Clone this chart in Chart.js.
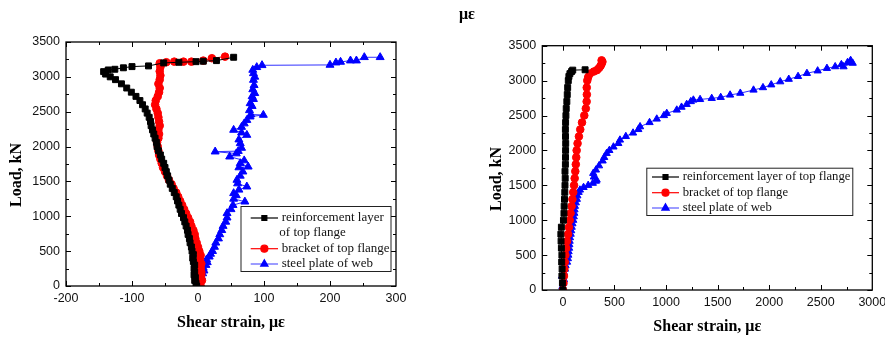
<!DOCTYPE html>
<html>
<head>
<meta charset="utf-8">
<script src="https://cdn.jsdelivr.net/npm/chart.js@4"></script>
<style>
body{margin:0;background:#fff;width:885px;height:345px;overflow:hidden;position:relative}
canvas{position:absolute;top:0}
#ca{left:0}
#cb{left:442px}
#stray{position:absolute;left:459px;top:5px;font:bold 16px "Liberation Serif";color:#000}
</style>
</head>
<body>
<canvas id="ca" width="442" height="345"></canvas>
<canvas id="cb" width="443" height="345"></canvas>
<div id="stray">με</div>
<script>
// (a) left panel
var aRebarLoad = [0,40,80,120,160,200,250,300,350,400,450,500,560,620,680,740,800,860,920,980,1040,1100,1160,1220,1280,1340,1400,1460,1520,1580,1640,1700,1760,1820,1880,1940,2000,2060,2120,2180,2240,2300,2360,2420,2480,2540,2600,2660,2720,2780,2840,2900,2960,3000,3040,3075,3099,3109,3130,3147,3157,3200,3209,3218,3224,3233,3281];
var aRebarStrain = [-2,-3,-5,-4,-6,-5,-6,-5,-7,-8,-7,-9,-10,-12,-13,-15,-16,-18,-20,-22,-25,-27,-29,-31,-33,-36,-39,-42,-44,-46,-48,-50,-52,-55,-57,-60,-62,-63,-65,-67,-69,-71,-72,-74,-77,-80,-84,-88,-94,-101,-108,-116,-125,-133,-140,-143,-136,-126,-113,-100,-75,-52,-29,-3,8,28,54];

var aBracketLoad = [0,40,80,120,160,200,260,320,380,440,500,560,620,680,740,800,860,920,980,1040,1100,1160,1220,1280,1340,1400,1460,1520,1580,1640,1700,1760,1820,1880,1940,2000,2060,2120,2180,2240,2300,2360,2420,2480,2540,2600,2660,2720,2780,2840,2900,2960,3020,3080,3140,3180,3195,3210,3218,3218,3218,3233,3267,3290];
var aBracketStrain = [4,3,6,4,5,5,4,5,3,4,2,0,-2,-4,-5,-7,-10,-12,-15,-18,-21,-24,-27,-30,-33,-37,-40,-44,-47,-50,-53,-55,-57,-59,-60,-61,-62,-60,-59,-60,-58,-59,-60,-61,-63,-65,-64,-61,-59,-58,-60,-58,-57,-58,-57,-56,-58,-48,-36,-22,-10,8,21,41];

var aWebLoad = [0,30,60,100,140,180,220,260,300,325,340,380,420,460,500,560,620,680,740,800,860,920,980,1043,1100,1160,1209,1250,1300,1330,1380,1425,1470,1521,1580,1640,1700,1711,1760,1800,1855,1900,1927,1935,1980,2047,2100,2166,2200,2238,2280,2330,2380,2429,2453,2460,2520,2580,2620,2680,2720,2765,2820,2880,2955,3000,3050,3099,3138,3166,3171,3204,3214,3233,3233,3281,3281];
var aWebStrain = [0,1,3,2,5,7,9,8,12,3,14,13,17,19,22,25,27,31,33,36,38,42,44,44,50,53,71,54,58,54,62,74,60,59,64,68,62,76,64,70,48,58,26,61,66,64,62,74,66,54,66,70,74,79,99,80,78,82,79,84,82,86,83,85,84,86,84,83,89,97,200,209,216,231,240,252,276];

// (b) right panel
var bRebarLoad = [0,100,200,300,400,500,600,700,800,900,1000,1100,1200,1300,1400,1500,1600,1700,1800,1900,2000,2100,2200,2300,2400,2500,2600,2700,2800,2900,3000,3060,3100,3130,3150,3155];
var bRebarStrain = [0,-5,-10,-8,-12,-10,-15,-18,-20,-15,5,10,12,15,18,20,22,20,24,25,26,27,25,24,26,29,32,38,42,46,52,58,68,84,95,215];

var bBracketLoad = [0,100,200,300,400,500,600,700,800,900,1000,1100,1200,1300,1400,1500,1600,1700,1800,1900,2000,2100,2200,2300,2400,2500,2600,2700,2800,2900,3000,3050,3100,3130,3150,3180,3210,3240,3270,3290];
var bBracketStrain = [0,5,10,14,18,24,32,40,50,58,66,74,84,92,100,108,114,120,125,129,133,142,155,168,185,207,222,230,232,231,236,245,262,300,330,350,365,375,383,375];

var bWebLoad = [0,50,100,150,200,250,300,350,400,450,500,550,600,650,700,750,800,850,900,950,1000,1050,1100,1150,1200,1250,1300,1350,1400,1433,1470,1500,1530,1560,1576,1620,1672,1720,1780,1850,1900,1958,2000,2050,2100,2149,2200,2250,2300,2340,2400,2450,2500,2531,2579,2620,2660,2700,2722,2730,2746,2760,2794,2820,2865,2900,2940,2984,3020,3060,3104,3140,3176,3200,3230,3260,3271,3290,3250,3199];
var bWebStrain = [0,-5,5,10,-8,10,20,25,40,48,52,55,60,62,65,68,75,80,85,92,100,105,110,112,116,125,135,140,152,165,200,245,290,320,327,300,294,320,350,385,400,424,450,490,537,553,610,680,731,748,840,910,980,1007,1104,1150,1200,1240,1265,1330,1443,1530,1621,1720,1848,1940,2020,2107,2190,2280,2366,2470,2560,2640,2700,2760,2786,2790,2810,2721];

var aStrainTicks = [-200,-100,0,100,200,300];
var bStrainTicks = [0,500,1000,1500,2000,2500,3000];
var loadTicks = [0,500,1000,1500,2000,2500,3000,3500];

var seriesNames = ['reinforcement layer of top flange', 'bracket of top flange', 'steel plate of web'];
var seriesColors = ['#000000', '#ff0000', '#0000ff'];
var seriesMarkers = ['rect', 'circle', 'triangle'];

function pts(xs, ys){
    return xs.map(function(x, i){ return {x: x, y: ys[i]} })
}

function midpoints(vals){
    var res = []
    for (var i = 0; i < vals.length - 1; i++) res.push((vals[i] + vals[i+1]) / 2)
    return res
}

// frame, inward ticks, axis titles and the boxed legend
var decor = {
    id: 'decor',
    afterDatasetsDraw: function(chart){
        var o = chart.options.plugins.decor
        var ctx = chart.ctx, a = chart.chartArea
        var sx = chart.scales.x, sy = chart.scales.y
        ctx.save()
        ctx.strokeStyle = '#000'
        ctx.lineWidth = 1
        ctx.beginPath()
        function xt(vals, len){
            vals.forEach(function(v){
                var p = Math.round(sx.getPixelForValue(v)) + 0.5
                if (p < a.left || p > a.right) return
                ctx.moveTo(p, a.bottom); ctx.lineTo(p, a.bottom - len)
                ctx.moveTo(p, a.top); ctx.lineTo(p, a.top + len)
            })
        }
        function yt(vals, len){
            vals.forEach(function(v){
                var p = Math.round(sy.getPixelForValue(v)) + 0.5
                ctx.moveTo(a.left, p); ctx.lineTo(a.left + len, p)
                ctx.moveTo(a.right, p); ctx.lineTo(a.right - len, p)
            })
        }
        xt(o.xTicks, 5); xt(midpoints(o.xTicks), 3)
        yt(loadTicks, 5); yt(midpoints(loadTicks), 3)
        ctx.stroke()
        ctx.lineWidth = 1.3
        ctx.strokeRect(a.left, a.top, a.right - a.left, a.bottom - a.top)

        // axis titles
        ctx.fillStyle = '#000'
        ctx.font = 'bold 16px "Liberation Serif"'
        ctx.textAlign = 'center'
        ctx.textBaseline = 'middle'
        ctx.fillText('Shear strain, με', o.xTitle[0], o.xTitle[1])
        ctx.save()
        ctx.translate(o.yTitle[0], o.yTitle[1])
        ctx.rotate(-Math.PI / 2)
        ctx.fillText('Load, kN', 0, 0)
        ctx.restore()

        // legend
        var L = o.legend
        ctx.fillStyle = '#fff'
        ctx.fillRect(L.box[0], L.box[1], L.box[2], L.box[3])
        ctx.lineWidth = 1
        ctx.strokeStyle = '#222'
        ctx.strokeRect(L.box[0] + 0.5, L.box[1] + 0.5, L.box[2], L.box[3])
        ctx.font = L.font + 'px "Liberation Serif"'
        ctx.textAlign = 'left'
        L.rows.forEach(function(r, i){
            ctx.strokeStyle = i == 2 ? '#5a5aff' : seriesColors[i]
            ctx.lineWidth = 1.2
            ctx.beginPath()
            ctx.moveTo(L.line[0], r[0]); ctx.lineTo(L.line[1], r[0])
            ctx.stroke()
            ctx.fillStyle = seriesColors[i]
            ctx.strokeStyle = seriesColors[i]
            Chart.helpers.drawPoint(ctx, {pointStyle: seriesMarkers[i], radius: L.radius[i], rotation: 0, borderWidth: 1}, (L.line[0] + L.line[1]) / 2, r[0])
            ctx.fillStyle = '#111'
            r[1].forEach(function(t){ ctx.fillText(t[0], t[1], t[2]) })
        })
        ctx.restore()
    }
}

function makeChart(id, d){
    var datasets = d.series.map(function(s, i){
        return {
            label: seriesNames[i],
            data: pts(s[0], s[1]),
            showLine: true,
            borderColor: i == 2 ? '#3030ff' : seriesColors[i],
            backgroundColor: seriesColors[i],
            pointBorderColor: seriesColors[i],
            borderWidth: 1,
            pointStyle: seriesMarkers[i],
            pointRadius: d.radius[i],
            pointBorderWidth: 1,
            tension: 0
        }
    })
    var plain = function(v){ return String(v) }
    return new Chart(document.getElementById(id), {
        type: 'scatter',
        data: {datasets: datasets},
        options: {
            responsive: false,
            animation: false,
            events: [],
            layout: {autoPadding: false, padding: d.padding},
            plugins: {
                legend: {display: false},
                tooltip: {enabled: false},
                decor: d.decor
            },
            scales: {
                x: {
                    type: 'linear',
                    min: d.xMin, max: d.xMax,
                    grid: {display: false, drawTicks: false},
                    border: {display: false},
                    afterBuildTicks: function(s){ s.ticks = d.decor.xTicks.map(function(v){ return {value: v} }) },
                    // fixed box: no extra room for the end labels
                    afterFit: function(s){ s.height = d.xHeight; s.paddingLeft = 0; s.paddingRight = 0 },
                    ticks: {color: '#111', padding: 5, maxRotation: 0, autoSkip: false, callback: plain, font: {family: '"Liberation Sans"', size: 12.5}}
                },
                y: {
                    type: 'linear',
                    min: 0, max: 3500,
                    grid: {display: false, drawTicks: false},
                    border: {display: false},
                    afterBuildTicks: function(s){ s.ticks = loadTicks.map(function(v){ return {value: v} }) },
                    afterFit: function(s){ s.width = d.yWidth; s.paddingTop = 0; s.paddingBottom = 0 },
                    ticks: {color: '#111', padding: 6, autoSkip: false, callback: plain, font: {family: '"Liberation Sans"', size: 12.5}}
                }
            }
        },
        plugins: [decor]
    })
}

makeChart('ca', {
    series: [[aRebarStrain, aRebarLoad], [aBracketStrain, aBracketLoad], [aWebStrain, aWebLoad]],
    radius: [4.2, 3.8, 4.6],
    xMin: -200, xMax: 300,
    padding: {left: 0, right: 46, top: 42, bottom: 0},
    yWidth: 66, xHeight: 59,
    decor: {
        xTicks: aStrainTicks,
        xTitle: [231, 322.7],
        yTitle: [17.3, 175],
        legend: {
            box: [240.5, 206, 150, 65],
            line: [250.7, 278],
            radius: [3.5, 3.5, 4.2],
            font: 13,
            rows: [
                [218, [['reinforcement layer', 281.7, 218], ['of top flange', 279.3, 232.7]]],
                [248.7, [['bracket of top flange', 281.7, 248.7]]],
                [264, [['steel plate of web', 281.7, 264]]]
            ]
        }
    }
})

makeChart('cb', {
    series: [[bRebarStrain, bRebarLoad], [bBracketStrain, bBracketLoad], [bWebStrain, bWebLoad]],
    radius: [4.2, 3.8, 4.2],
    xMin: -200, xMax: 3000,
    padding: {left: 0, right: 12.7, top: 45.7, bottom: 0},
    yWidth: 100.3, xHeight: 55,
    decor: {
        xTicks: bStrainTicks,
        xTitle: [265.3, 326.7],
        yTitle: [54.7, 179],
        legend: {
            box: [204.3, 167.7, 206, 47.3],
            line: [210, 237],
            radius: [3.5, 3.5, 4.2],
            font: 12.7,
            rows: [
                [177, [[seriesNames[0], 240.7, 177]]],
                [192.7, [[seriesNames[1], 240.7, 192.7]]],
                [208, [[seriesNames[2], 240.7, 208]]]
            ]
        }
    }
})
</script>
</body>
</html>
